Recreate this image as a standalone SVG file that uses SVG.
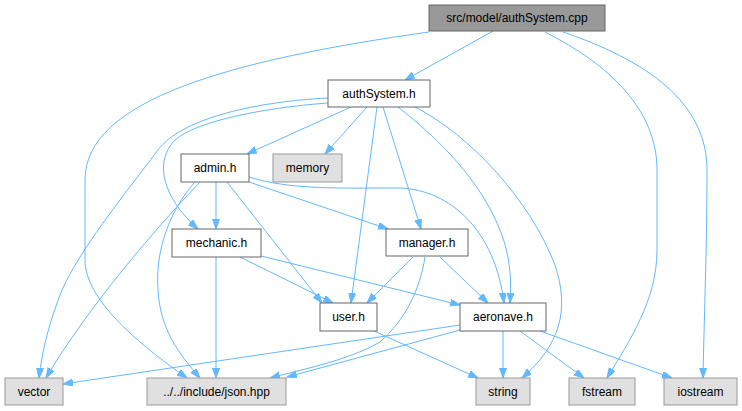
<svg xmlns="http://www.w3.org/2000/svg" width="742" height="411" viewBox="0 0 742 411">
<style>
.e{fill:none;stroke:#63b8ff;stroke-width:1;marker-end:url(#ah)}
.n rect{fill:#fff;stroke:#666;stroke-width:1}
.g rect{fill:#e0e0e0;stroke:#999;stroke-width:1}
.r rect{fill:#999;stroke:#666;stroke-width:1}
text{font-family:"Liberation Sans",Arial,sans-serif;font-size:12px;fill:#000;text-anchor:middle}
</style>
<defs>
<marker id="ah" markerUnits="userSpaceOnUse" markerWidth="11" markerHeight="8" refX="10" refY="3.5" orient="auto">
<path d="M0,0 L10,3.5 L0,7 z" fill="#63b8ff" stroke="#63b8ff" stroke-width="1"/>
</marker>
</defs>
<rect width="742" height="411" fill="#fff"/>
<g id="edges">
<path class="e" d="M493,31 L405,80"/>
<path class="e" d="M429,32 C230,60 85,100 85,180 L85,260 C85,300 140,345 187,378"/>
<path class="e" d="M545,32 C610,65 657,110 657,170 L657,250 C657,300 630,340 607,378"/>
<path class="e" d="M563,32 C660,65 707,110 707,170 C707,250 704,320 703,378"/>
<path class="e" d="M351,107 L247,154"/>
<path class="e" d="M367,107 L325,154"/>
<path class="e" d="M377,107 L351,303"/>
<path class="e" d="M383,107 L421,229"/>
<path class="e" d="M398,107 C440,140 480,180 500,230 C512,260 511,285 510,303"/>
<path class="e" d="M415,107 C470,135 530,200 555,265 C570,310 560,345 522,378"/>
<path class="e" d="M328,103 C260,108 195,122 175,140 C155,160 160,195 198,229"/>
<path class="e" d="M328,98 C250,102 180,120 158,150 C120,200 80,250 62,290 C50,320 42,350 39,378"/>
<path class="e" d="M216,182 L216,229"/>
<path class="e" d="M227,182 L322,303"/>
<path class="e" d="M249,182 L388,229"/>
<path class="e" d="M249,177 C290,190 340,188 400,188 C450,190 495,230 504,303"/>
<path class="e" d="M200,182 C140,245 80,320 46,378"/>
<path class="e" d="M195,182 C170,210 155,250 158,290 C160,330 180,355 200,378"/>
<path class="e" d="M216,257 L216,378"/>
<path class="e" d="M240,257 L333,303"/>
<path class="e" d="M261,256 L460,305"/>
<path class="e" d="M413,257 L367,303"/>
<path class="e" d="M440,257 L488,303"/>
<path class="e" d="M425,257 C420,290 405,320 380,342 C350,360 300,370 270,378"/>
<path class="e" d="M374,331 L478,378"/>
<path class="e" d="M460,325 L63,384"/>
<path class="e" d="M460,330 L287,377"/>
<path class="e" d="M503,331 L503,378"/>
<path class="e" d="M520,331 L584,378"/>
<path class="e" d="M540,331 L672,378"/>
</g>
<g id="n_cpp" class="r"><rect x="429" y="5" width="176" height="26"/><text x="517" y="22">src/model/authSystem.cpp</text></g>
<g id="n_authSystem" class="n"><rect x="328" y="80" width="102" height="27"/><text x="379" y="97.5">authSystem.h</text></g>
<g id="n_admin" class="n"><rect x="181" y="154" width="68" height="28"/><text x="215" y="172">admin.h</text></g>
<g id="n_memory" class="g"><rect x="273" y="154" width="69" height="28"/><text x="307.5" y="172">memory</text></g>
<g id="n_mechanic" class="n"><rect x="172" y="229" width="89" height="28"/><text x="216.5" y="247">mechanic.h</text></g>
<g id="n_manager" class="n"><rect x="386" y="229" width="82" height="27"/><text x="427" y="246.5">manager.h</text></g>
<g id="n_user" class="n"><rect x="320" y="303" width="57" height="28"/><text x="348.5" y="321">user.h</text></g>
<g id="n_aeronave" class="n"><rect x="460" y="303" width="86" height="28"/><text x="503" y="321">aeronave.h</text></g>
<g id="n_vector" class="g"><rect x="5" y="378" width="58" height="27"/><text x="34" y="395.5">vector</text></g>
<g id="n_json" class="g"><rect x="147" y="378" width="139" height="27"/><text x="216.5" y="395.5">../../include/json.hpp</text></g>
<g id="n_string" class="g"><rect x="476" y="378" width="54" height="27"/><text x="503" y="395.5">string</text></g>
<g id="n_fstream" class="g"><rect x="569" y="378" width="66" height="27"/><text x="602" y="395.5">fstream</text></g>
<g id="n_iostream" class="g"><rect x="664" y="378" width="73" height="27"/><text x="700.5" y="395.5">iostream</text></g>
</svg>
